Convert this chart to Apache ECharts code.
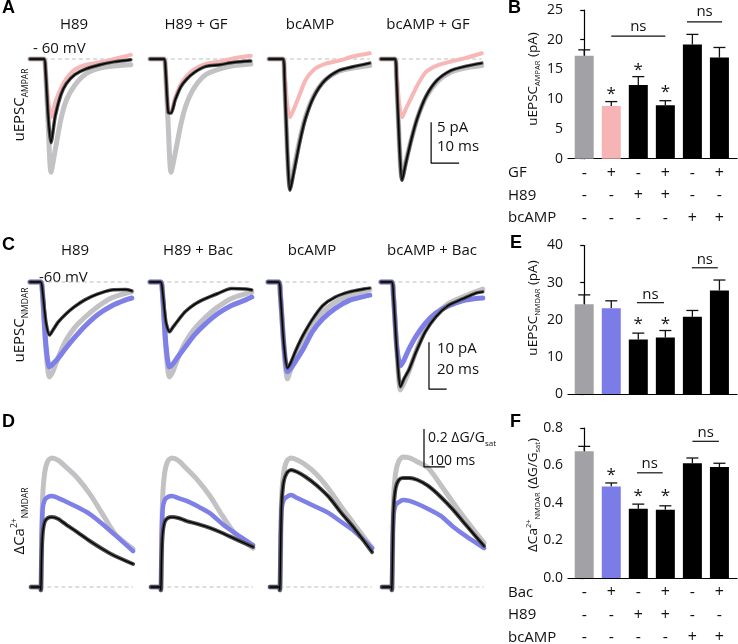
<!DOCTYPE html>
<html><head><meta charset="utf-8">
<script src="https://cdn.jsdelivr.net/npm/echarts/dist/echarts.min.js"></script>
<style>html,body{margin:0;padding:0;background:#fff}#c{width:738px;height:644px}</style>
</head><body><div id="c"></div>
<script>
const FONT = 'Open Sans';

// ---------- Panel A: uEPSC AMPAR traces (time ms, current pA) ----------
const tA = [0,5,5.5,6.5,7.5,9,11,13,16,20,25,30,36];
const grayA1  = [0,0,-1.3,-8,-13.8,-11.1,-7.4,-5.0,-3.2,-1.8,-1.1,-0.85,-0.7];
const pinkA1  = [0,0,-1,-5,-7.1,-5.3,-3.6,-2.4,-1.3,-0.7,-0.4,0,0.5];
const blackA1 = [0,0,-1.1,-7,-10.2,-7.0,-4.4,-3.0,-1.9,-1.2,-0.7,-0.35,-0.1];
const grayA2  = [0,0,-1.3,-8,-13.8,-11.5,-8.0,-5.5,-3.4,-1.9,-1.2,-0.8,-0.6];
const pinkA2  = [0,0,-1,-6.2,-6.4,-4.7,-3.1,-2.1,-1.2,-0.6,-0.3,0.1,0.4];
const blackA2 = [0,0,-1,-6.5,-6.6,-5.0,-3.4,-2.5,-1.6,-0.9,-0.7,-0.4,-0.25];
const grayA3  = [0,0,-2,-11,-15.6,-13.2,-9.8,-7.1,-4.5,-2.6,-1.5,-1.1,-0.8];
const pinkA3  = [0,0,-1.3,-5.5,-7.1,-6.0,-4.3,-2.6,-1.3,-0.6,-0.2,0.3,0.7];
const blackA3 = [0,0,-2,-11,-16,-13.6,-10.1,-7.3,-4.6,-2.6,-1.4,-0.95,-0.5];
const grayA4  = [0,0,-2,-10,-14.5,-12.3,-9.6,-7.2,-4.7,-2.8,-1.6,-1.1,-0.8];
const pinkA4  = [0,0,-1.3,-5.5,-7.1,-6.0,-4.6,-3.2,-1.6,-0.8,-0.3,0.1,0.7];
const blackA4 = [0,0,-2,-10,-14.8,-12.5,-9.6,-7.2,-4.6,-2.6,-1.4,-0.9,-0.5];
const titlesA = ['H89','H89 + GF','bcAMP','bcAMP + GF'];

// ---------- Panel C: uEPSC NMDAR traces ----------
const tC = [0,12,14,18,22,26,32,40,50,62,76,92,108,115];
const grayC1  = [0,0,-2.1,-14.5,-20.2,-19,-16,-12.6,-9.8,-7.5,-5.3,-3.4,-2.4,-2.1];
const blueC1  = [0,0,-2.1,-13.4,-18.1,-17.4,-16.2,-14.2,-11.9,-9.4,-7.0,-5.1,-3.8,-3.4];
const blackC1 = [0,0,-1.7,-8.5,-11.3,-10.2,-8.5,-6.9,-5.3,-3.8,-2.6,-1.7,-1.6,-1.9];
const grayC2  = [0,0,-2.1,-14.5,-20.2,-19,-16,-12.8,-10,-7.6,-5.4,-3.5,-2.5,-2.2];
const blueC2  = [0,0,-2.1,-13.4,-18.1,-17.4,-15.8,-13.8,-11.3,-9.0,-6.8,-5.0,-3.8,-3.2];
const blackC2 = [0,0,-1.7,-8.5,-10.6,-9.6,-8.1,-6.3,-4.8,-3.6,-2.5,-1.4,-1.5,-1.7];
const grayC3  = [0,0,-2.8,-14.5,-20.6,-18.5,-15.6,-12.5,-9.2,-6.4,-4.3,-2.9,-2.0,-1.6];
const blueC3  = [0,0,-2.8,-13.4,-19.1,-18.3,-16.6,-14.2,-10.6,-7.8,-5.6,-3.9,-3.1,-2.8];
const blackC3 = [0,0,-2.8,-13.4,-18.3,-17,-14.3,-11.2,-8.0,-5.0,-3.2,-2.1,-1.5,-1.3];
const grayC4  = [0,0,-2.8,-15,-23,-21.5,-18.8,-14.5,-10.2,-7.0,-4.6,-3.2,-2.0,-1.5];
const blueC4  = [0,0,-2.8,-14,-17.8,-16.6,-14.1,-11.4,-8.8,-6.6,-5.1,-4.0,-3.5,-3.4];
const blackC4 = [0,0,-2.8,-15,-22.3,-20.6,-18.5,-14.7,-10.6,-7.4,-5.0,-3.6,-2.3,-2.1];
const titlesC = ['H89','H89 + Bac','bcAMP','bcAMP + Bac'];

// ---------- Panel D: Ca2+ NMDAR transients (time ms, dG/Gsat) ----------
const tD = [0,45,47,50,55,65,80,100,130,170,220,280,340,400,486];
const grayD1  = [0,0,-0.016,0.142,0.458,0.6,0.663,0.679,0.666,0.628,0.575,0.49,0.385,0.28,0.2];
const blueD1  = [0,0,-0.016,0.221,0.405,0.458,0.474,0.479,0.468,0.447,0.421,0.384,0.332,0.274,0.189];
const blackD1 = [0,0,-0.016,0.142,0.274,0.342,0.363,0.368,0.358,0.326,0.289,0.242,0.2,0.163,0.121];
const grayD2  = [0,0,-0.016,0.142,0.458,0.6,0.663,0.679,0.666,0.622,0.565,0.48,0.375,0.28,0.205];
const blueD2  = [0,0,-0.016,0.221,0.405,0.458,0.474,0.479,0.468,0.453,0.426,0.389,0.332,0.284,0.221];
const blackD2 = [0,0,-0.016,0.142,0.274,0.342,0.363,0.368,0.363,0.347,0.332,0.311,0.284,0.253,0.211];
const grayD3  = [0,0,-0.016,0.142,0.458,0.6,0.663,0.679,0.668,0.642,0.595,0.516,0.421,0.332,0.205];
const blueD3  = [0,0,-0.016,0.221,0.405,0.458,0.474,0.484,0.468,0.447,0.421,0.389,0.342,0.295,0.205];
const blackD3 = [0,0,-0.016,0.168,0.432,0.553,0.6,0.616,0.605,0.579,0.537,0.474,0.389,0.311,0.184];
const grayD4  = [0,0,-0.016,0.142,0.458,0.6,0.663,0.684,0.679,0.658,0.626,0.537,0.442,0.353,0.232];
const blueD4  = [0,0,-0.016,0.221,0.379,0.432,0.447,0.458,0.453,0.437,0.411,0.374,0.316,0.268,0.205];
const blackD4 = [0,0,-0.016,0.168,0.405,0.521,0.563,0.574,0.574,0.563,0.532,0.474,0.405,0.326,0.216];

// scale bars: [x0, yTop, dy, dx]
const scaleA = [17.9, -7.7, 5, 10];
const scaleC = [54.2, -12.8, 10, 20];
const scaleD = [200, 0.832, 0.2, 100];

// ---------- Bar panels ----------
const meanB = [17.3, 8.86, 12.4, 9.0, 19.2, 17.0];
const errB  = [18.3, 9.6, 13.8, 9.75, 20.9, 18.7];
const starB = [[1, 11.5], [2, 15.6], [3, 11.8]];
const nsB   = [[1, 3, 20.6, 22.2], [3.8, 5.1, 23.0, 24.7]];
const rowNamesB = ['GF', 'H89', 'bcAMP'];
const rowsB = [['-','+','-','+','-','+'], ['-','-','+','+','-','-'], ['-','-','-','-','+','+']];

const meanE = [24.2, 23.1, 14.7, 15.2, 20.8, 27.9];
const errE  = [26.7, 25.1, 16.4, 17.1, 22.5, 30.7];
const starE = [[2, 20.0], [3, 20.0]];
const nsE   = [[1.95, 2.95, 24.6, 26.7], [3.98, 4.94, 34.0, 36.2]];

const meanF = [0.676, 0.488, 0.369, 0.364, 0.612, 0.592];
const errF  = [0.702, 0.507, 0.394, 0.385, 0.640, 0.612];
const starF = [[1, 0.571], [2, 0.458], [3, 0.458]];
const nsF   = [[1.95, 2.9, 0.561, 0.608], [4.0, 4.98, 0.729, 0.773]];
const rowNamesF = ['Bac', 'H89', 'bcAMP'];
const rowsF = [['-','+','-','+','-','+'], ['-','-','+','+','-','-'], ['-','-','-','-','+','+']];

// ---------- build ----------
const C_GRAY = '#c2c2c4', C_PINK = '#f7b7b7', C_BLUE = '#7f7fe8', C_BAND = '#4d4d4d';
const barColors1 = ['#a2a2a6', '#f7b4b4', '#000', '#000', '#000', '#000'];
const barColors2 = ['#a2a2a6', '#7c7ce8', '#000', '#000', '#000', '#000'];

const grids = [], xAxes = [], yAxes = [], series = [], graphics = [];
function addGrid(g, x, y) { grids.push(g); xAxes.push(Object.assign({gridIndex: grids.length-1}, x)); yAxes.push(Object.assign({gridIndex: grids.length-1}, y)); return grids.length-1; }
const hiddenAxis = (min, max) => ({type:'value', min, max, show:false});
const pts = (t, v) => t.map((x, i) => [x, v[i]]);
function line(g, data, color, width, z, extra) {
  series.push(Object.assign({type:'line', xAxisIndex:g, yAxisIndex:g, data, symbol:'none', smooth:0.25,
    lineStyle:{color, width, cap:'round', join:'round'}, silent:true, z, clip:false, animation:false}, extra||{}));
}
function txt(x, y, text, opt) {
  graphics.push({type:'text', x, y, silent:true, style:Object.assign({text, fontFamily:FONT, fontSize:15, fill:'#111', align:'center', verticalAlign:'middle'}, opt||{})});
}

// Panel A grids
const lefts1 = [30, 150, 269, 381];
const A = [[grayA1,pinkA1,blackA1],[grayA2,pinkA2,blackA2],[grayA3,pinkA3,blackA3],[grayA4,pinkA4,blackA4]];
const gA = [];
A.forEach((tr, k) => {
  const g = addGrid({left:lefts1[k], top:42.6, width:100.8, height:151.7}, hiddenAxis(0, 36), hiddenAxis(-16.5, 2));
  gA.push(g);
  line(g, [[5,0],[36,0]], '#bdbdbd', 1, 1, {lineStyle:{color:'#bdbdbd', width:1, type:[4,3]}});
  line(g, pts(tA, tr[0]), C_GRAY, 5, 2);
  line(g, pts(tA, tr[1]), C_PINK, 4, 3);
  line(g, pts(tA, tr[2]), C_BAND, 3.5, 4);
  line(g, pts(tA, tr[2]), '#000', 1.4, 5);
});
const titlesAX = [74, 196, 310, 428];
titlesA.forEach((t, k) => txt(titlesAX[k], 25, t));
txt(33, 49, '- 60 mV', {align:'left'});
line(gA[3], [[scaleA[0], scaleA[1]], [scaleA[0], scaleA[1]-scaleA[2]], [scaleA[0]+scaleA[3], scaleA[1]-scaleA[2]]], '#000', 1, 6, {smooth:false, lineStyle:{color:'#000', width:1.2}});
txt(437, 128, '5 pA', {align:'left'});
txt(437, 147, '10 ms', {align:'left'});

// Panel C grids
const lefts2 = [30, 150, 268, 381];
const Cc = [[grayC1,blueC1,blackC1],[grayC2,blueC2,blackC2],[grayC3,blueC3,blackC3],[grayC4,blueC4,blackC4]];
const gC = [];
Cc.forEach((tr, k) => {
  const g = addGrid({left:lefts2[k], top:272.6, width:101.8, height:122.2}, hiddenAxis(0, 115), hiddenAxis(-24, 2));
  gC.push(g);
  line(g, [[12,0],[115,0]], '#bdbdbd', 1, 1, {lineStyle:{color:'#bdbdbd', width:1, type:[4,3]}});
  line(g, pts(tC, tr[0]), C_GRAY, 5, 2);
  line(g, pts(tC, tr[1]), C_BLUE, 5, 3);
  line(g, pts(tC, tr[2]), C_BAND, 3.5, 4);
  line(g, pts(tC, tr[2]), '#000', 1.4, 5);
});
const titlesCX = [75, 198, 312, 432];
titlesC.forEach((t, k) => txt(titlesCX[k], 251, t));
txt(39, 278, '-60 mV', {align:'left'});
line(gC[3], [[scaleC[0], scaleC[1]], [scaleC[0], scaleC[1]-scaleC[2]], [scaleC[0]+scaleC[3], scaleC[1]-scaleC[2]]], '#000', 1, 6, {smooth:false, lineStyle:{color:'#000', width:1.2}});
txt(437, 349, '10 pA', {align:'left'});
txt(437, 370, '20 ms', {align:'left'});

// Panel D grids
const lefts3 = [31, 151, 270, 382];
const Dd = [[grayD1,blueD1,blackD1],[grayD2,blueD2,blackD2],[grayD3,blueD3,blackD3],[grayD4,blueD4,blackD4]];
const gD = [];
Dd.forEach((tr, k) => {
  const g = addGrid({left:lefts3[k], top:425.5, width:102.06, height:180.5}, hiddenAxis(0, 486), hiddenAxis(-0.1, 0.85));
  gD.push(g);
  line(g, [[45,0],[486,0]], '#bdbdbd', 1, 1, {lineStyle:{color:'#bdbdbd', width:1, type:[4,3]}});
  line(g, pts(tD, tr[0]), C_GRAY, 5, 2);
  line(g, pts(tD, tr[1]), C_BLUE, 4.5, 3);
  line(g, pts(tD, tr[2]), C_BAND, 4, 4);
  line(g, pts(tD, tr[2]), '#000', 1.4, 5);
});
line(gD[3], [[scaleD[0], scaleD[1]], [scaleD[0], scaleD[1]-scaleD[2]], [scaleD[0]+scaleD[3], scaleD[1]-scaleD[2]]], '#000', 1, 6, {smooth:false, lineStyle:{color:'#000', width:1.2}});
const subRich = {
  a:{fontFamily:FONT, fontSize:15, lineHeight:20, fill:'#111'},
  s:{fontFamily:FONT, fontSize:8.5, lineHeight:9, verticalAlign:'bottom', fill:'#111'},
  p:{fontFamily:FONT, fontSize:8.5, lineHeight:9, verticalAlign:'top', fill:'#111'}
};
const subRichSm = {
  a:{fontFamily:FONT, fontSize:14, lineHeight:19, fill:'#111'},
  s:{fontFamily:FONT, fontSize:8, lineHeight:8, verticalAlign:'bottom', fill:'#111'},
  p:{fontFamily:FONT, fontSize:8, lineHeight:8, verticalAlign:'top', fill:'#111'}
};
const subRichBar = {
  a:{fontFamily:FONT, fontSize:13.5, lineHeight:17, fill:'#111'},
  s:{fontFamily:FONT, fontSize:7.5, lineHeight:7, verticalAlign:'bottom', fill:'#111'},
  p:{fontFamily:FONT, fontSize:7.5, lineHeight:7, verticalAlign:'top', fill:'#111'}
};
txt(428, 438, '{a|0.2 ΔG/G}{s|sat}', {align:'left', rich:subRichSm});
txt(428, 461, '100 ms', {align:'left', fontSize:14});

// y labels of trace rows
graphics.push({type:'text', x:20, y:105, rotation:Math.PI/2, silent:true, style:{text:'{a|uEPSC}{s|AMPAR}', rich:subRich, align:'center', verticalAlign:'middle'}});
graphics.push({type:'text', x:20, y:325, rotation:Math.PI/2, silent:true, style:{text:'{a|uEPSC}{s|NMDAR}', rich:subRich, align:'center', verticalAlign:'middle'}});
graphics.push({type:'text', x:20, y:521, rotation:Math.PI/2, silent:true, style:{text:'{a|ΔCa}{p|2+}{s|NMDAR}', rich:subRich, align:'center', verticalAlign:'middle'}});

// panel letters
[['A',2,8],['B',508,8],['C',2,245],['E',510,243],['D',2,422],['F',510,422]].forEach(([l,x,y]) =>
  txt(x, y, l, {align:'left', fontWeight:'bold', fontSize:18, fill:'#000', fontFamily:'Liberation Sans'}));

// Bar panels
function barPanel(gridDef, ymax, yint, fmt, mean, err, colors, stars, ns, rowNames, rows, yTitle) {
  const g = addGrid(gridDef,
    {type:'value', min:-0.6, max:5.65, axisLine:{show:true, lineStyle:{color:'#000', width:1.2}}, axisTick:{show:false}, axisLabel:{show:false}, splitLine:{show:false}},
    {type:'value', min:0, max:ymax, interval:yint, axisLine:{show:true, lineStyle:{color:'#000', width:1.2}},
     axisTick:{show:true, length:4, lineStyle:{color:'#000', width:1.2}}, splitLine:{show:false},
     axisLabel:{fontFamily:FONT, fontSize:14, color:'#111', margin:5, formatter:fmt}});
  series.push({type:'bar', xAxisIndex:g, yAxisIndex:g, barWidth:19, z:3, animation:false, silent:true,
    data: mean.map((v, i) => ({value:[i, v], itemStyle:{color:colors[i]}}))});
  series.push({type:'custom', xAxisIndex:g, yAxisIndex:g, z:2, animation:false, silent:true,
    data: mean.map((v, i) => [i, v, err[i]]),
    renderItem(p, api) {
      const a = api.coord([api.value(0), api.value(1)]), b = api.coord([api.value(0), api.value(2)]);
      const st = {stroke:'#111', lineWidth:1.3};
      return {type:'group', children:[
        {type:'line', shape:{x1:a[0], y1:a[1], x2:b[0], y2:b[1]}, style:st},
        {type:'line', shape:{x1:b[0]-6, y1:b[1], x2:b[0]+6, y2:b[1]}, style:st}]};
    }});
  series.push({type:'custom', xAxisIndex:g, yAxisIndex:g, z:4, animation:false, silent:true,
    data: stars,
    renderItem(p, api) {
      const a = api.coord([api.value(0), api.value(1)]);
      return {type:'text', x:a[0], y:a[1]+4, style:{text:'*', fontFamily:FONT, fontSize:17, fill:'#111', align:'center', verticalAlign:'middle'}};
    }});
  series.push({type:'custom', xAxisIndex:g, yAxisIndex:g, z:4, animation:false, silent:true,
    data: ns,
    renderItem(p, api) {
      const a = api.coord([api.value(0), api.value(2)]), b = api.coord([api.value(1), api.value(2)]);
      const c = api.coord([(api.value(0)+api.value(1))/2, api.value(3)]);
      return {type:'group', children:[
        {type:'line', shape:{x1:a[0], y1:a[1], x2:b[0], y2:b[1]}, style:{stroke:'#111', lineWidth:1.2}},
        {type:'text', x:c[0], y:c[1], style:{text:'ns', fontFamily:FONT, fontSize:15, fill:'#111', align:'center', verticalAlign:'middle'}}]};
    }});
  if (rowNames) {
    const offs = [14.5, 37, 59.5];
    const flat = [];
    rows.forEach((row, r) => row.forEach((s, i) => flat.push([i, r, s === '+' ? 1 : 0])));
    series.push({type:'custom', xAxisIndex:g, yAxisIndex:g, z:4, animation:false, silent:true, clip:false,
      data: flat,
      renderItem(p, api) {
        const a = api.coord([api.value(0), 0]);
        return {type:'text', x:a[0], y:a[1] + offs[api.value(1)], style:{text: api.value(2) ? '+' : '-', fontFamily:FONT, fontSize:16, fill:'#111', align:'center', verticalAlign:'middle'}};
      }});
    rowNames.forEach((n, r) => txt(508, gridDef.top + gridDef.height + offs[r], n, {align:'left', fontSize:15}));
  }
  graphics.push({type:'text', x:533, y:yTitle.y, rotation:Math.PI/2, silent:true, style:{text:yTitle.text, rich:subRichBar, align:'center', verticalAlign:'middle'}});
}
barPanel({left:568, top:10, width:169, height:148.7}, 25, 5, null, meanB, errB, barColors1, starB, nsB, rowNamesB, rowsB,
  {y:79, text:'{a|uEPSC}{s|AMPAR}{a| (pA)}'});
barPanel({left:568, top:245.5, width:169, height:148.5}, 40, 10, null, meanE, errE, barColors2, starE, nsE, null, null,
  {y:308, text:'{a|uEPSC}{s|NMDAR}{a| (pA)}'});
barPanel({left:568, top:428, width:169, height:150}, 0.8, 0.2, v => v.toFixed(1), meanF, errF, barColors2, starF, nsF, rowNamesF, rowsF,
  {y:495, text:'{a|ΔCa}{p|2+}{s|NMDAR}{a| (ΔG/G}{s|sat}{a|)}'});

const chart = echarts.init(document.getElementById('c'), null, {renderer:'canvas'});
chart.setOption({animation:false, backgroundColor:'#fff', grid:grids, xAxis:xAxes, yAxis:yAxes, series, graphic:graphics});
</script></body></html>
